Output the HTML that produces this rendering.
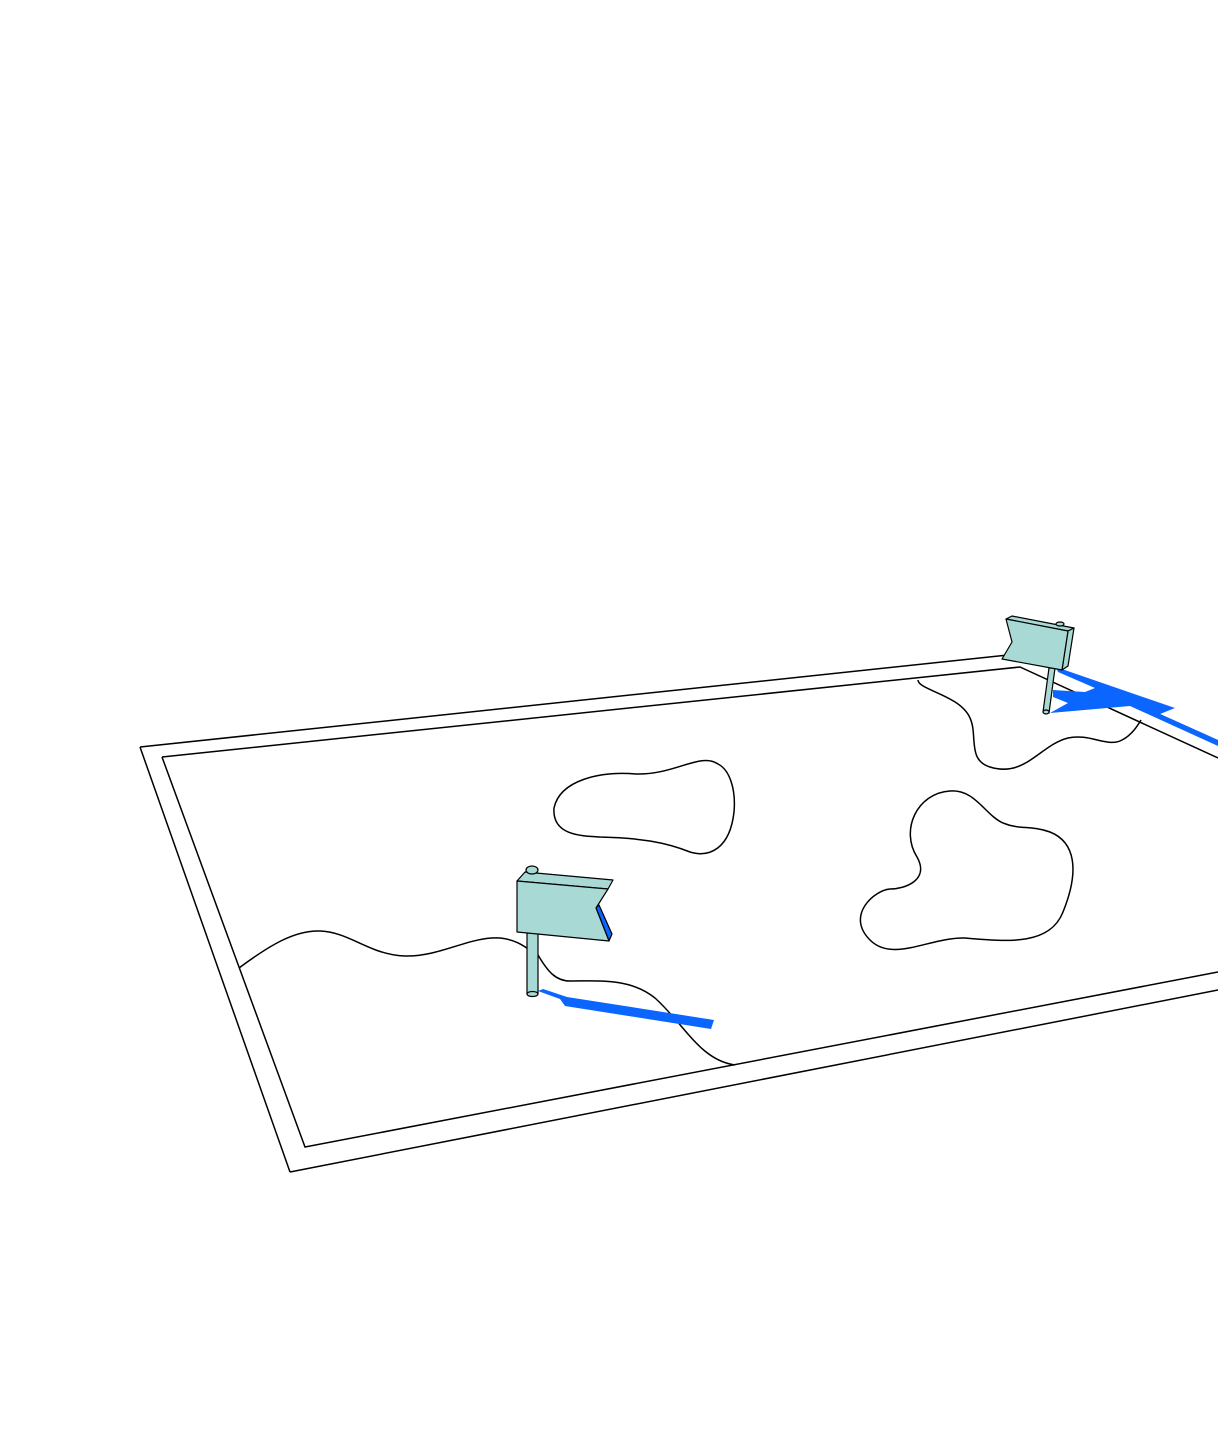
<!DOCTYPE html>
<html><head><meta charset="utf-8"><style>html,body{margin:0;padding:0;background:#fff}svg{display:block}</style></head>
<body>
<svg width="1218" height="1451" viewBox="0 0 1218 1451" xmlns="http://www.w3.org/2000/svg">
<g fill="none" stroke="#000" stroke-width="1.5">
<!-- frame -->
<path d="M140,747 L1008,655 M1058,669 L1218,741 M1218,990 L290,1172 Z M140,747 L290,1172"/>
<path d="M162,757 L1020,667 L1218,758 M1218,972 L305,1147 L162,757"/>
<!-- curves -->
<path d="M239,968 C270,945 295,930 320,931 C350,932 370,955 405,956 C440,957 470,936 500,938 C520,940 528,950 538,955 C548,972 556,981 570,981 C600,981 630,978 655,998 C685,1025 700,1060 735,1065"/>
<path d="M636,774 C600,771 560,780 554,808 C552,835 580,836 600,837 C640,838 665,842 690,852 C710,858 730,848 734,812 C736,790 730,770 718,764 C700,752 675,775 636,774 Z"/>
<path d="M950,791 C975,789 985,815 1003,823 C1020,830 1030,825 1050,832 C1075,842 1080,870 1063,912 C1050,945 1010,942 965,938 C930,937 893,963 870,940 C845,915 875,890 890,889 C905,889 930,880 917,857 C900,830 917,793 950,791 Z"/>
<path d="M918,680 C918,690 960,695 970,718 C978,735 967,760 990,767 C1025,778 1040,745 1068,738 C1090,733 1108,748 1122,740 C1132,735 1138,725 1141,720"/>
</g>
<!-- blue shadows -->
<path d="M1056,667 L1175,708 L1160,714 L1218,740 L1218,746 L1130,706 L1050,713 L1068,703 L1053,697 L1053,690 L1085,692 L1095,688 L1058,672 Z" fill="#0a66ff"/>
<path d="M538,991 L560,999 L565,1006 L711,1029 L714,1020 L567,997 L543,989 Z" fill="#0a66ff"/>
<g stroke="#000" stroke-width="1.2" stroke-linejoin="round">
<!-- right flag -->
<path d="M1049,668 L1055,668 L1049,713 L1043,712 Z" fill="#a8d9d5"/>
<ellipse cx="1046" cy="712" rx="3" ry="2" fill="#a8d9d5"/>
<path d="M1006,619 L1012,616 L1074,628 L1068,631 Z" fill="#a8d9d5"/>
<path d="M1068,631 L1074,628 L1068,666 L1062,670 Z" fill="#a8d9d5"/>
<path d="M1006,619 L1068,631 L1062,670 L1002,659 L1012,642 Z" fill="#a8d9d5"/>
<ellipse cx="1060" cy="624" rx="4" ry="2" fill="#a8d9d5"/>
<!-- left flag -->
<path d="M527,932 L538,932 L538,994 L527,994 Z" fill="#a8d9d5"/>
<ellipse cx="532.5" cy="994" rx="5.5" ry="2.5" fill="#a8d9d5"/>
<path d="M517,881 L525,872 L613,880 L608,889 Z" fill="#a8d9d5"/>
<path d="M596,908 L599,905 L612,934 L609,941 Z" fill="#0a66ff"/>
<path d="M517,881 L608,889 L596,908 L609,941 L517,932 Z" fill="#a8d9d5"/>
<ellipse cx="532" cy="870" rx="6" ry="4" fill="#a8d9d5"/>
</g>
</svg>
</body></html>
